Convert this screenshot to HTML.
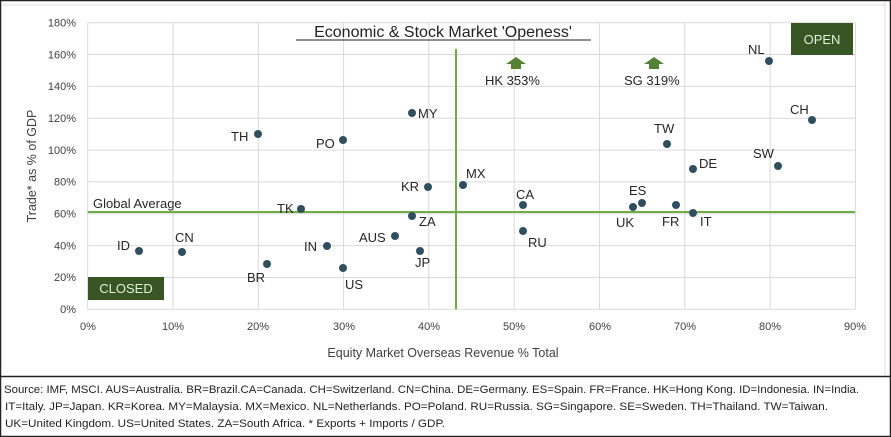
<!DOCTYPE html>
<html><head><meta charset="utf-8"><style>
html,body{margin:0;padding:0;background:#fff;}
svg{display:block;font-family:"Liberation Sans",sans-serif;}
</style></head><body>
<svg width="891" height="437" viewBox="0 0 891 437" xmlns="http://www.w3.org/2000/svg">
<rect x="0.5" y="0.5" width="890" height="436" fill="#fff" stroke="#222" stroke-width="1.5"/>
<line x1="0" y1="376.5" x2="891" y2="376.5" stroke="#222" stroke-width="1.5"/>
<line x1="885" y1="2" x2="885" y2="376" stroke="#ddd"/>
<line x1="2" y1="5" x2="885" y2="5" stroke="#ddd"/>
<g stroke="#d9d9d9" stroke-width="1">
<line x1="87.7" y1="22.7" x2="855" y2="22.7"/><line x1="87.7" y1="54.5" x2="855" y2="54.5"/>
<line x1="87.7" y1="86.4" x2="855" y2="86.4"/><line x1="87.7" y1="118.2" x2="855" y2="118.2"/>
<line x1="87.7" y1="150.1" x2="855" y2="150.1"/><line x1="87.7" y1="181.9" x2="855" y2="181.9"/>
<line x1="87.7" y1="213.8" x2="855" y2="213.8"/><line x1="87.7" y1="245.6" x2="855" y2="245.6"/>
<line x1="87.7" y1="277.5" x2="855" y2="277.5"/><line x1="87.7" y1="309.3" x2="855" y2="309.3"/>
<line x1="87.7" y1="22.7" x2="87.7" y2="309.3"/><line x1="173" y1="22.7" x2="173" y2="309.3"/>
<line x1="258.3" y1="22.7" x2="258.3" y2="309.3"/><line x1="343.6" y1="22.7" x2="343.6" y2="309.3"/>
<line x1="428.9" y1="22.7" x2="428.9" y2="309.3"/><line x1="514.2" y1="22.7" x2="514.2" y2="309.3"/>
<line x1="599.5" y1="22.7" x2="599.5" y2="309.3"/><line x1="684.8" y1="22.7" x2="684.8" y2="309.3"/>
<line x1="770.1" y1="22.7" x2="770.1" y2="309.3"/><line x1="855.4" y1="22.7" x2="855.4" y2="309.3"/>
</g>
<line x1="87.7" y1="212" x2="855" y2="212" stroke="#70ad47" stroke-width="2"/>
<line x1="456" y1="49" x2="456" y2="309.3" stroke="#70ad47" stroke-width="2"/>
<g font-size="11" fill="#404040" text-anchor="end">
<text x="76" y="26.5">180%</text><text x="76" y="58.5">160%</text><text x="76" y="90">140%</text>
<text x="76" y="122">120%</text><text x="76" y="154">100%</text><text x="76" y="185.5">80%</text>
<text x="76" y="217.5">60%</text><text x="76" y="249.5">40%</text><text x="76" y="281">20%</text>
<text x="76" y="313">0%</text>
</g>
<g font-size="11" fill="#404040" text-anchor="middle">
<text x="88" y="330">0%</text><text x="173" y="330">10%</text><text x="258" y="330">20%</text>
<text x="344" y="330">30%</text><text x="429" y="330">40%</text><text x="514" y="330">50%</text>
<text x="600" y="330">60%</text><text x="685" y="330">70%</text><text x="770" y="330">80%</text>
<text x="855" y="330">90%</text>
</g>
<text x="443" y="357" font-size="12.5" fill="#404040" text-anchor="middle">Equity Market Overseas Revenue % Total</text>
<text transform="translate(36,166) rotate(-90)" font-size="12.5" fill="#404040" text-anchor="middle">Trade* as % of GDP</text>
<text x="443" y="37" font-size="16" fill="#222" text-anchor="middle">Economic &amp; Stock Market 'Openess'</text>
<line x1="296" y1="40" x2="591" y2="40" stroke="#222" stroke-width="1"/>
<rect x="791" y="23" width="62" height="32" fill="#375623"/>
<text x="822" y="44" font-size="13" fill="#e2efda" text-anchor="middle">OPEN</text>
<rect x="88" y="277" width="76" height="23" fill="#375623"/>
<text x="126" y="293" font-size="13" fill="#e2efda" text-anchor="middle">CLOSED</text>
<g fill="#548235">
<polygon points="516,57 526,64 521,64 521,69 511,69 511,64 506,64"/>
<polygon points="654,57 664,64 659,64 659,69 649,69 649,64 644,64"/>
</g>
<g fill="#2f4f5f">
<circle cx="139" cy="251" r="4"/><circle cx="182" cy="252" r="4"/><circle cx="267" cy="264" r="4"/>
<circle cx="258" cy="134" r="4"/><circle cx="343" cy="140" r="4"/><circle cx="301" cy="209" r="4"/>
<circle cx="327" cy="246" r="4"/><circle cx="343" cy="268" r="4"/><circle cx="395" cy="236" r="4"/>
<circle cx="412" cy="113" r="4"/><circle cx="428" cy="187" r="4"/><circle cx="412" cy="216" r="4"/>
<circle cx="420" cy="251" r="4"/><circle cx="463" cy="185" r="4"/><circle cx="523" cy="205" r="4"/>
<circle cx="523" cy="231" r="4"/><circle cx="642" cy="203" r="4"/><circle cx="633" cy="207" r="4"/>
<circle cx="676" cy="205" r="4"/><circle cx="693" cy="213" r="4"/><circle cx="667" cy="144" r="4"/>
<circle cx="693" cy="169" r="4"/><circle cx="769" cy="61" r="4"/><circle cx="812" cy="120" r="4"/>
<circle cx="778" cy="166" r="4"/>
</g>
<g font-size="13" fill="#262626">
<text x="93" y="208">Global Average</text>
<text x="231" y="141">TH</text><text x="316" y="148">PO</text><text x="418" y="118">MY</text>
<text x="401" y="191">KR</text><text x="277" y="213">TK</text><text x="419" y="226">ZA</text>
<text x="359" y="242">AUS</text><text x="304" y="251">IN</text><text x="415" y="267">JP</text>
<text x="345" y="289">US</text><text x="247" y="282">BR</text><text x="175" y="242">CN</text>
<text x="117" y="250">ID</text>
<text x="485" y="85">HK 353%</text><text x="624" y="85">SG 319%</text>
<text x="748" y="54">NL</text><text x="790" y="114">CH</text><text x="654" y="133">TW</text>
<text x="753" y="158">SW</text><text x="699" y="168">DE</text><text x="466" y="178">MX</text>
<text x="516" y="199">CA</text><text x="528" y="247">RU</text><text x="629" y="195">ES</text>
<text x="616" y="227">UK</text><text x="662" y="226">FR</text><text x="700" y="226">IT</text>
</g>
<g font-size="10.8" fill="#222">
<text x="4" y="393" textLength="855" lengthAdjust="spacingAndGlyphs">Source: IMF, MSCI.  AUS=Australia. BR=Brazil.CA=Canada. CH=Switzerland. CN=China. DE=Germany. ES=Spain. FR=France. HK=Hong Kong. ID=Indonesia. IN=India.</text>
<text x="5" y="410" textLength="823" lengthAdjust="spacingAndGlyphs">IT=Italy. JP=Japan. KR=Korea. MY=Malaysia. MX=Mexico. NL=Netherlands. PO=Poland. RU=Russia. SG=Singapore. SE=Sweden. TH=Thailand. TW=Taiwan.</text>
<text x="5" y="427" textLength="440" lengthAdjust="spacingAndGlyphs">UK=United Kingdom. US=United States. ZA=South Africa. * Exports + Imports / GDP.</text>
</g>
</svg>
</body></html>
